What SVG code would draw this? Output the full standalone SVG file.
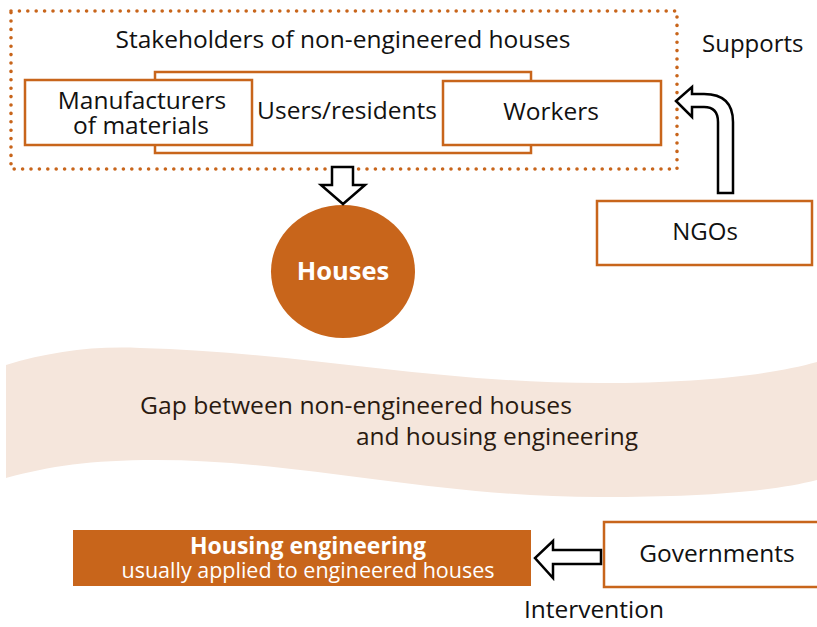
<svg xmlns="http://www.w3.org/2000/svg" width="817" height="627" viewBox="0 0 817 627">
<style>
.t{font-family:"Open Sans","Noto Sans",sans-serif;fill:#111;font-size:24.5px}
.box{fill:#fff;stroke:#C8651B;stroke-width:2.5}
.arr{fill:#fff;stroke:#000;stroke-width:2.5;stroke-linejoin:miter}
.w{fill:#fff;font-weight:bold}
</style>
<rect width="817" height="627" fill="#fff"/>
<g id="band">
<path d="M6,365 C50,352 90,346 140,348 C300,352 430,383 600,383 C700,383 770,375 817,362 L817,480 C770,492 700,497 600,497 C430,497 300,460 156,460 C90,460 50,466 6,478 Z" fill="#F5E6DC"/>
<text class="t" x="140" y="414" style="fill:#2a1a10" textLength="432" lengthAdjust="spacingAndGlyphs">Gap between non-engineered houses</text>
<text class="t" x="356" y="445" style="fill:#2a1a10" textLength="282" lengthAdjust="spacingAndGlyphs">and housing engineering</text>
</g>
<g id="stakeholders">
<rect x="11" y="11" width="666" height="158" fill="none" stroke="#C8651B" stroke-width="3.6" stroke-linecap="round" stroke-dasharray="0 8.4"/>
<text class="t" x="343" y="48" text-anchor="middle">Stakeholders of non-engineered houses</text>
</g>
<g id="users">
<rect class="box" x="155" y="72" width="376" height="81"/>
<text class="t" x="347" y="119" text-anchor="middle">Users/residents</text>
</g>
<g id="manufacturers">
<rect class="box" x="25" y="80" width="227" height="65"/>
<text class="t" x="142" y="108.5" text-anchor="middle">Manufacturers</text>
<text class="t" x="141" y="134" text-anchor="middle">of materials</text>
</g>
<g id="workers">
<rect class="box" x="443" y="81" width="218" height="64"/>
<text class="t" x="551" y="120" text-anchor="middle">Workers</text>
</g>
<g id="ngos">
<rect class="box" x="597" y="201" width="215" height="64"/>
<text class="t" x="705" y="240" text-anchor="middle" style="font-size:24px">NGOs</text>
</g>
<g id="houses">
<ellipse cx="343" cy="271.5" rx="72" ry="66.5" fill="#C8651B"/>
<text class="t w" x="343" y="280" text-anchor="middle" style="font-size:25.5px">Houses</text>
</g>
<g id="housing-engineering">
<rect x="73" y="530" width="458" height="56" fill="#C8651B"/>
<text class="t w" x="308" y="554" text-anchor="middle" style="font-size:23px">Housing engineering</text>
<text class="t" x="308" y="578" text-anchor="middle" style="fill:#fff;font-size:21.5px">usually applied to engineered houses</text>
</g>
<g id="governments">
<rect class="box" x="604" y="522" width="215" height="65"/>
<text class="t" x="717" y="562" text-anchor="middle">Governments</text>
</g>
<g id="connectors">
<path class="arr" d="M332,167 L353,167 L353,185 L365,185 L343,204 L321,185 L332,185 Z"/>
<path class="arr" d="M718,193 L718,122 Q718,107 704,107 L692,107 L692,117 L676,101 L692,87 L692,94 L704,94 Q733,94 733,122 L733,193 Z"/>
<path class="arr" d="M601,550 L553,550 L553,541 L535,558 L553,578 L553,564 L601,564 Z"/>
<text class="t" x="702" y="52" style="font-size:24px">Supports</text>
<text class="t" x="594" y="618" text-anchor="middle">Intervention</text>
</g>
</svg>
